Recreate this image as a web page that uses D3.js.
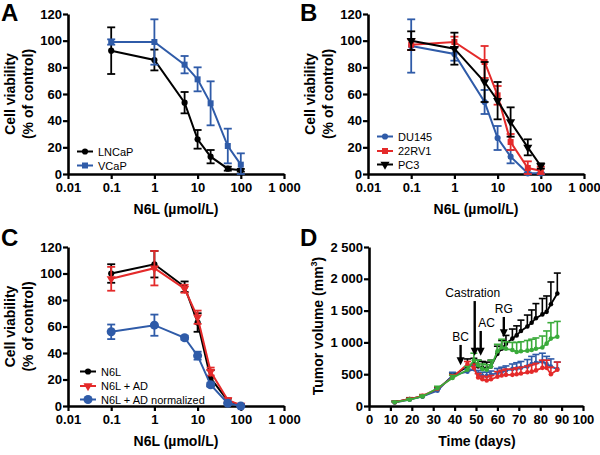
<!DOCTYPE html>
<html><head><meta charset="utf-8">
<script src="https://cdn.jsdelivr.net/npm/d3@7"></script>
<style>body{margin:0;background:#fff} svg{display:block;font-family:"Liberation Sans",Arial,Helvetica,sans-serif}</style>
</head><body><svg id="c" width="600" height="455"></svg>
<script>
// ---------- data ----------
const conc = [0.1, 1, 5, 10, 20, 50, 100];
const xTickVals = [0.01, 0.1, 1, 10, 100, 1000];
const xTickLabels = ["0.01", "0.1", "1", "10", "100", "1 000"];
const yTickVals = [0, 20, 40, 60, 80, 100, 120];

// Panel A
const lncapMean = [92.5, 85.5, 53.5, 26, 13, 4, 2.8];
const lncapErr  = [17.5, 7.8, 8, 7, 5, 1.5, 1];
const vcapMean  = [99, 99, 82, 71, 53, 21, 7];
const vcapErr   = [2, 17, 6.5, 9, 16.5, 13, 8.5];

// Panel B
const du145Mean = [96, 90, 54, 27, 13, 0.5, 0.5];
const du145Err  = [20, 5, 9, 9, 5, 0.5, 0.5];
const rv1Mean   = [97, 99, 84, 59, 24, 4.5, 2.5];
const rv1Err    = [4, 4, 12, 7, 6, 5, 3];
const pc3Mean   = [100, 94, 69, 55, 39, 20, 6];
const pc3Err    = [7, 12, 15, 14, 11, 6, 2];

// Panel C
const n6lMean   = [100, 107, 90, 63, 21, 4, 0.3];
const n6lErr    = [7, 10, 4, 7, 6, 1.5, 0.5];
const adMean    = [96, 104, 88.5, 67, 26, 4.5, 0.5];
const adErr     = [9, 13, 3, 5, 3, 1.5, 0.5];
const normMean  = [56, 61, 51.5, 38, 16, 2, 0];
const normErr   = [5.5, 8, 1.5, 3, 1.5, 1, 0.5];

// Panel D
const days = [12,19,25,32,39,46,49,51,53,55,57,60,62,64,67,69,71,74,76,78,81,83,85,88];
const dBlackMean = [60,110,150,260,470,620,660,620,600,590,620,820,900,980,1060,1110,1180,1250,1310,1380,1440,1480,1600,1770];
const dBlackErr  = [15,20,20,30,50,120,90,100,100,100,100,120,130,130,150,150,170,180,200,230,250,250,350,320];
const dBlueMean  = [55,100,150,240,480,540,580,500,470,470,490,520,540,560,580,590,600,620,660,680,700,660,620,580];
const dBlueErr   = [10,15,20,30,50,40,60,60,60,60,60,70,70,70,80,90,100,110,120,130,130,120,120,110];
const dRedMean   = [60,110,160,270,450,660,600,450,420,400,420,460,480,490,490,500,510,530,540,560,600,600,500,570];
const dRedErr    = [10,15,20,30,40,40,60,60,50,60,60,80,80,90,90,100,100,100,110,110,120,120,110,120];
const dGreenMean = [60,100,150,280,440,570,720,640,580,570,620,860,920,900,880,850,860,870,880,900,920,980,1060,1090];
const dGreenErr  = [10,15,20,30,40,50,110,80,80,80,100,110,130,110,120,150,150,160,170,170,180,200,250,240];
const dXTicks = [0,10,20,30,40,50,60,70,80,90,100];
const dYTicks = [0,500,1000,1500,2000,2500];
const dYTickLabels = ["0","500","1 000","1 500","2 000","2 500"];

const annLabels = ["BC", "Castration", "AC", "RG"];
const annDays   = [42.8, 49.4, 52.2, 63];
const annTop    = [960, 1650, 1180, 1400];
const annTip    = [640, 790, 790, 1080];
const annDx     = [0, -2, 6, 0];

// ---------- styles ----------
const BLUE = "#2f5ba8", RED = "#e42a2a", BLACK = "#000", GREEN = "#3aab3a";
const svg = d3.select("#c");

function styleAxis(g) {
  g.selectAll("path.domain").attr("stroke", "#000").attr("stroke-width", 2.6);
  g.selectAll(".tick line").attr("stroke", "#000").attr("stroke-width", 2.2);
  g.selectAll(".tick text").attr("fill", "#000").style("font-weight", "bold").style("font-size", "13px")
    .style("font-family", '"Liberation Sans",Arial,sans-serif');
}

function viabilityAxes(x, y, ox, oy) {
  const gx = svg.append("g").attr("transform", `translate(0,${y(0)})`)
    .call(d3.axisBottom(x).tickValues(xTickVals).tickFormat((d, i) => xTickLabels[i]).tickSize(5).tickSizeOuter(0).tickPadding(4));
  styleAxis(gx);
  const gy = svg.append("g").attr("transform", `translate(${x.range()[0]},0)`)
    .call(d3.axisLeft(y).tickValues(yTickVals).tickSize(5).tickSizeOuter(0).tickPadding(1));
  styleAxis(gy);
  const xm = (x.range()[0] + x.range()[1]) / 2;
  svg.append("text").attr("x", xm).attr("y", y(0) + 40).attr("text-anchor", "middle")
    .style("font-weight", "bold").style("font-size", "14px").text("N6L (µmol/L)");
  const ym = (y.range()[0] + y.range()[1]) / 2;
  const t = svg.append("text").attr("transform", `translate(${ox + 15},${ym}) rotate(-90)`)
    .attr("text-anchor", "middle").style("font-weight", "bold").style("font-size", "14px");
  t.append("tspan").attr("x", 0).attr("dy", 0).text("Cell viability");
  t.append("tspan").attr("x", 0).attr("dy", 18).text("(% of control)");
}

function marker(sel, shape, size, color) {
  let type = d3.symbolCircle, rot = 0;
  if (shape === "square") type = d3.symbolSquare;
  if (shape === "tri") { type = d3.symbolTriangle; rot = 180; }
  sel.append("path").attr("d", d3.symbol().type(type).size(size)())
    .attr("fill", color).attr("transform", (rot ? `rotate(${rot})` : ""));
}

function series(x, y, xs, mean, err, color, shape, size, capW, lw) {
  const g = svg.append("g");
  const pts = xs.map((v, i) => [x(v), y(mean[i]), y(Math.max(0, mean[i] - err[i])), y(mean[i] + err[i])]);
  g.append("path").attr("d", d3.line()(pts.map(p => [p[0], p[1]])))
    .attr("fill", "none").attr("stroke", color).attr("stroke-width", lw || 2);
  pts.forEach(p => {
    g.append("line").attr("x1", p[0]).attr("x2", p[0]).attr("y1", p[2]).attr("y2", p[3]).attr("stroke", color).attr("stroke-width", 1.8);
    [p[2], p[3]].forEach(yy => g.append("line").attr("x1", p[0] - capW / 2).attr("x2", p[0] + capW / 2)
      .attr("y1", yy).attr("y2", yy).attr("stroke", color).attr("stroke-width", 1.8));
    const m = g.append("g").attr("transform", `translate(${p[0]},${p[1]})`);
    marker(m, shape, size, color);
  });
}

function legend(x0, yy, labels, colors, shapes, sizes) {
  labels.forEach((lab, i) => {
    const y = yy[i];
    svg.append("line").attr("x1", x0).attr("x2", x0 + 16).attr("y1", y).attr("y2", y)
      .attr("stroke", colors[i]).attr("stroke-width", 2);
    const m = svg.append("g").attr("transform", `translate(${x0 + 8},${y})`);
    marker(m, shapes[i], sizes[i], colors[i]);
    svg.append("text").attr("x", x0 + 21).attr("y", y + 4).style("font-size", "11px").text(lab);
  });
}

function letter(t, x, y) {
  svg.append("text").attr("x", x).attr("y", y).style("font-weight", "bold").style("font-size", "24px").text(t);
}

// ---------- Panel A ----------
{
  const x = d3.scaleLog().domain([0.01, 1000]).range([68, 284]);
  const y = d3.scaleLinear().domain([0, 120]).range([174, 14]);
  viabilityAxes(x, y, 0, 0);
  series(x, y, conc, lncapMean, lncapErr, BLACK, "circle", 30, 8);
  series(x, y, conc, vcapMean, vcapErr, BLUE, "square", 36, 8);
  legend(77, [151.5, 165.5], ["LNCaP", "VCaP"], [BLACK, BLUE], ["circle", "square"], [30, 36]);
  letter("A", 1, 21);
}
// ---------- Panel B ----------
{
  const x = d3.scaleLog().domain([0.01, 1000]).range([368, 584]);
  const y = d3.scaleLinear().domain([0, 120]).range([174, 14]);
  viabilityAxes(x, y, 300, 0);
  series(x, y, conc, du145Mean, du145Err, BLUE, "circle", 30, 8);
  series(x, y, conc, rv1Mean, rv1Err, RED, "square", 36, 8);
  series(x, y, conc, pc3Mean, pc3Err, BLACK, "tri", 36, 8);
  legend(377, [136.5, 151, 164.5], ["DU145", "22RV1", "PC3"], [BLUE, RED, BLACK], ["circle", "square", "tri"], [30, 36, 36]);
  letter("B", 300, 21);
}
// ---------- Panel C ----------
{
  const x = d3.scaleLog().domain([0.01, 1000]).range([68, 284]);
  const y = d3.scaleLinear().domain([0, 120]).range([406, 247]);
  viabilityAxes(x, y, 0, 225);
  series(x, y, conc, n6lMean, n6lErr, BLACK, "circle", 30, 8);
  series(x, y, conc, adMean, adErr, RED, "tri", 36, 8);
  series(x, y, conc, normMean, normErr, BLUE, "circle", 64, 8);
  legend(80, [371.5, 386, 399.5], ["N6L", "N6L + AD", "N6L + AD normalized"], [BLACK, RED, BLUE], ["circle", "tri", "circle"], [30, 36, 64]);
  letter("C", 1, 246);
}
// ---------- Panel D ----------
{
  const x = d3.scaleLinear().domain([0, 100]).range([369, 583]);
  const y = d3.scaleLinear().domain([0, 2500]).range([406, 247]);
  const gx = svg.append("g").attr("transform", `translate(0,${y(0)})`)
    .call(d3.axisBottom(x).tickValues(dXTicks).tickSize(5).tickSizeOuter(0).tickPadding(4));
  styleAxis(gx);
  const gy = svg.append("g").attr("transform", `translate(${x(0)},0)`)
    .call(d3.axisLeft(y).tickValues(dYTicks).tickFormat((d, i) => dYTickLabels[i]).tickSize(5).tickSizeOuter(0).tickPadding(1));
  styleAxis(gy);
  svg.append("text").attr("x", 477).attr("y", y(0) + 40).attr("text-anchor", "middle")
    .style("font-weight", "bold").style("font-size", "14px").text("Time (days)");
  const t = svg.append("text").attr("transform", `translate(323,326) rotate(-90)`)
    .attr("text-anchor", "middle").style("font-weight", "bold").style("font-size", "14px");
  t.append("tspan").text("Tumor volume (mm");
  t.append("tspan").attr("dy", -6).style("font-size", "9px").text("3");
  t.append("tspan").attr("dy", 6).text(")");

  function dSeries(mean, err, color) {
    const g = svg.append("g");
    const pts = days.map((d, i) => [x(d), y(mean[i]), y(mean[i] + err[i])]);
    pts.forEach(p => {
      g.append("line").attr("x1", p[0]).attr("x2", p[0]).attr("y1", p[1]).attr("y2", p[2]).attr("stroke", color).attr("stroke-width", 1.6);
      g.append("line").attr("x1", p[0] - 3.5).attr("x2", p[0] + 3.5).attr("y1", p[2]).attr("y2", p[2]).attr("stroke", color).attr("stroke-width", 1.6);
    });
    g.append("path").attr("d", d3.line()(pts.map(p => [p[0], p[1]])))
      .attr("fill", "none").attr("stroke", color).attr("stroke-width", 1.8);
    pts.forEach(p => g.append("circle").attr("cx", p[0]).attr("cy", p[1]).attr("r", 2.3).attr("fill", color));
  }
  dSeries(dBlackMean, dBlackErr, BLACK);
  dSeries(dBlueMean, dBlueErr, BLUE);
  dSeries(dRedMean, dRedErr, RED);
  dSeries(dGreenMean, dGreenErr, GREEN);

  annLabels.forEach((lab, i) => {
    const ax = x(annDays[i]), y1 = y(annTop[i]), y2 = y(annTip[i]);
    svg.append("line").attr("x1", ax).attr("x2", ax).attr("y1", y1).attr("y2", y2 - 6)
      .attr("stroke", "#000").attr("stroke-width", 2.4);
    svg.append("path").attr("d", `M${ax - 4},${y2 - 8} L${ax + 4},${y2 - 8} L${ax},${y2} Z`).attr("fill", "#000");
    svg.append("text").attr("x", ax + annDx[i]).attr("y", y1 - 4).attr("text-anchor", "middle")
      .style("font-size", "12px").text(lab);
  });
  letter("D", 300, 246);
}
</script></body></html>
